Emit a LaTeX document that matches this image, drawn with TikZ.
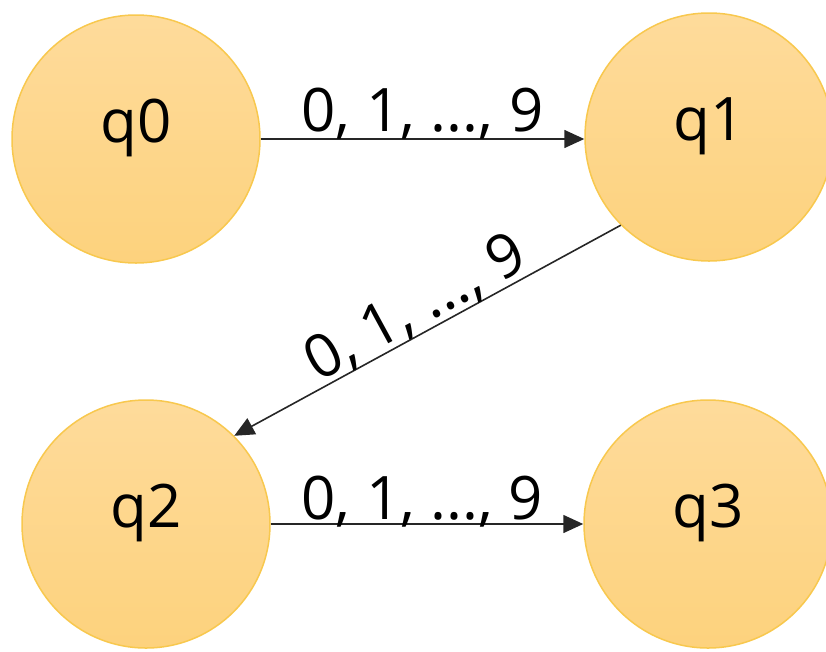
\documentclass[tikz,border=0pt]{standalone}
\usepackage{fontspec}
\setmainfont{Open Sans}
\usetikzlibrary{arrows.meta}
\definecolor{fillTop}{HTML}{FEDB9B}
\definecolor{fillBot}{HTML}{FDD27D}
\definecolor{ringCol}{HTML}{F8C84E}
\definecolor{edgeCol}{HTML}{262626}
\tikzset{
  statenode/.style={circle, minimum size=248pt, inner sep=0pt,
    top color=fillTop, bottom color=fillBot, draw=ringCol, line width=1.5pt,
    font=\fontsize{60}{60}\selectfont, text height=0.7em, text depth=0pt},
  trans/.style={draw=edgeCol, line width=1.6pt,
    -{Triangle[length=20pt,width=18pt]}},
  lbl/.style={font=\fontsize{60}{60}\selectfont, anchor=base, inner sep=0pt}
}
\begin{document}
\begin{tikzpicture}[x=1pt,y=-1pt]
\useasboundingbox (0,0) rectangle (826,651);
\clip (0,0) rectangle (826,651);
\node[statenode] (q0) at (136,139) {q0};
\node[statenode] (q1) at (709,137) {q1};
\node[statenode] (q2) at (146,524) {q2};
\node[statenode] (q3) at (708,524) {q3};
\draw[trans] (q0.east |- 0,139) -- (q1.west |- 0,139)
  node[lbl, pos=0.5, yshift=8pt] {0, 1, ..., 9};
\draw[trans] (q1.225) -- (q2.45)
  node[lbl, pos=0.50, sloped] {\raisebox{7pt}{0, 1, ..., 9}};
\draw[trans] (q2.east) -- (q3.west)
  node[lbl, pos=0.485, yshift=5pt] {0, 1, ..., 9};
\end{tikzpicture}
\end{document}
